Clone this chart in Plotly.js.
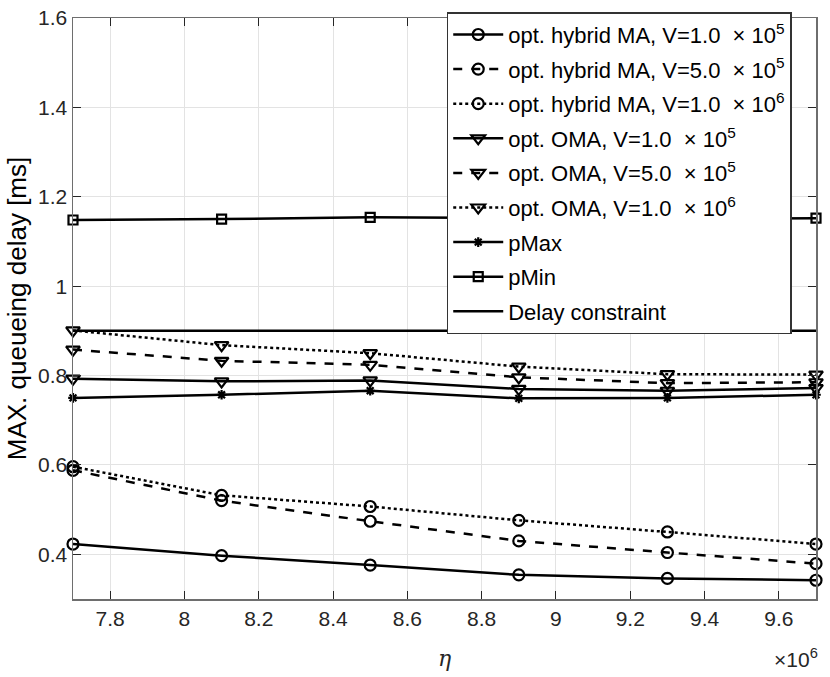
<!DOCTYPE html>
<html>
<head>
<meta charset="utf-8">
<script src="https://cdn.plot.ly/plotly-3.0.1.min.js"></script>
<style>
  html, body { margin: 0; padding: 0; background: #fff; }
  #plot { width: 830px; height: 677px; }
</style>
</head>
<body>
<div id="plot"></div>
<script>
// eta in units of 1e6
var eta = [7.7, 8.1, 8.5, 8.9, 9.3, 9.7];

var hybridV1e5 = [0.423, 0.397, 0.376, 0.354, 0.346, 0.342];
var hybridV5e5 = [0.588, 0.520, 0.474, 0.430, 0.404, 0.379];
var hybridV1e6 = [0.596, 0.532, 0.507, 0.476, 0.450, 0.423];

var omaV1e5 = [0.793, 0.787, 0.789, 0.770, 0.766, 0.772];
var omaV5e5 = [0.858, 0.833, 0.824, 0.796, 0.783, 0.785];
var omaV1e6 = [0.901, 0.868, 0.850, 0.820, 0.803, 0.802];

var pMax = [0.750, 0.757, 0.766, 0.749, 0.750, 0.757];
var pMin = [1.148, 1.150, 1.154, 1.152, 1.151, 1.152];
var delayConstraint = [0.9, 0.9, 0.9, 0.9, 0.9, 0.9];

var xTicks = [7.8, 8, 8.2, 8.4, 8.6, 8.8, 9, 9.2, 9.4, 9.6];
var yTicks = [0.4, 0.6, 0.8, 1, 1.2, 1.4, 1.6];

var n = 0;
function mk(y, name, dash, symbol, size) {
    n++;
    var t = {
        x: eta,
        y: y,
        name: name,
        legendgroup: 'g' + n,
        type: 'scatter',
        mode: symbol ? 'lines+markers' : 'lines',
        line: {color: 'black', width: 2.5, dash: dash},
        cliponaxis: false
    };
    if (symbol) {
        t.marker = {symbol: symbol, size: size, color: 'black',
                    line: {color: 'black', width: 2.2}};
    }
    return t;
}

var data = [
    mk(hybridV1e5, 'opt. hybrid MA, V=1.0 &nbsp;&#215; 10<sup>5</sup>', 'solid', 'circle-open', 11),
    mk(hybridV5e5, 'opt. hybrid MA, V=5.0 &nbsp;&#215; 10<sup>5</sup>', 'dash', 'circle-open', 11),
    mk(hybridV1e6, 'opt. hybrid MA, V=1.0 &nbsp;&#215; 10<sup>6</sup>', 'dot', 'circle-open', 11),
    mk(omaV1e5, 'opt. OMA, V=1.0 &nbsp;&#215; 10<sup>5</sup>', 'solid', 'triangle-down-open', 12),
    mk(omaV5e5, 'opt. OMA, V=5.0 &nbsp;&#215; 10<sup>5</sup>', 'dash', 'triangle-down-open', 12),
    mk(omaV1e6, 'opt. OMA, V=1.0 &nbsp;&#215; 10<sup>6</sup>', 'dot', 'triangle-down-open', 12),
    mk(pMax, 'pMax', 'solid', 'asterisk-open', 8),
    mk(pMin, 'pMin', 'solid', 'square-open', 9),
    mk(delayConstraint, 'Delay constraint', 'solid', null, 0)
];

var axisCommon = {
    showgrid: true,
    gridcolor: '#e3e3e3',
    gridwidth: 1,
    zeroline: false,
    showline: true,
    linecolor: '#6e6e6e',
    linewidth: 1.5,
    mirror: 'ticks',
    ticks: 'inside',
    ticklen: 8,
    tickcolor: '#262626',
    tickfont: {family: 'Liberation Sans, Arial, sans-serif', size: 21, color: '#262626'}
};

var layout = {
    width: 830,
    height: 677,
    margin: {l: 73, r: 14, t: 14, b: 78},
    paper_bgcolor: 'white',
    plot_bgcolor: 'white',
    font: {family: 'Liberation Sans, Arial, sans-serif', color: '#262626'},
    showlegend: true,
    xaxis: Object.assign({}, axisCommon, {
        range: [7.7, 9.7],
        tickvals: xTicks,
        ticktext: xTicks.map(String),
        title: {text: '<i>η</i>', font: {size: 22, family: 'DejaVu Serif, serif', color: '#262626'}, standoff: 22}
    }),
    yaxis: Object.assign({}, axisCommon, {
        range: [0.3, 1.6],
        tickvals: yTicks,
        ticktext: yTicks.map(String),
        title: {text: 'MAX. queueing delay [ms]', font: {size: 26, color: 'black'}, standoff: 4}
    }),
    legend: {
        x: 0.503,
        y: 1.01,
        xanchor: 'left',
        yanchor: 'top',
        bgcolor: 'white',
        bordercolor: '#333',
        borderwidth: 1.5,
        font: {family: 'Liberation Sans, Arial, sans-serif', size: 22, color: 'black'},
        itemwidth: 50,
        tracegroupgap: 3
    },
    annotations: [{
        xref: 'paper', yref: 'paper',
        x: 1.005, y: -0.075,
        xanchor: 'right', yanchor: 'top',
        text: '&#215;10<sup>6</sup>',
        showarrow: false,
        font: {size: 21, color: '#262626'}
    }]
};

Plotly.newPlot('plot', data, layout, {displayModeBar: false, staticPlot: true});
</script>
</body>
</html>
